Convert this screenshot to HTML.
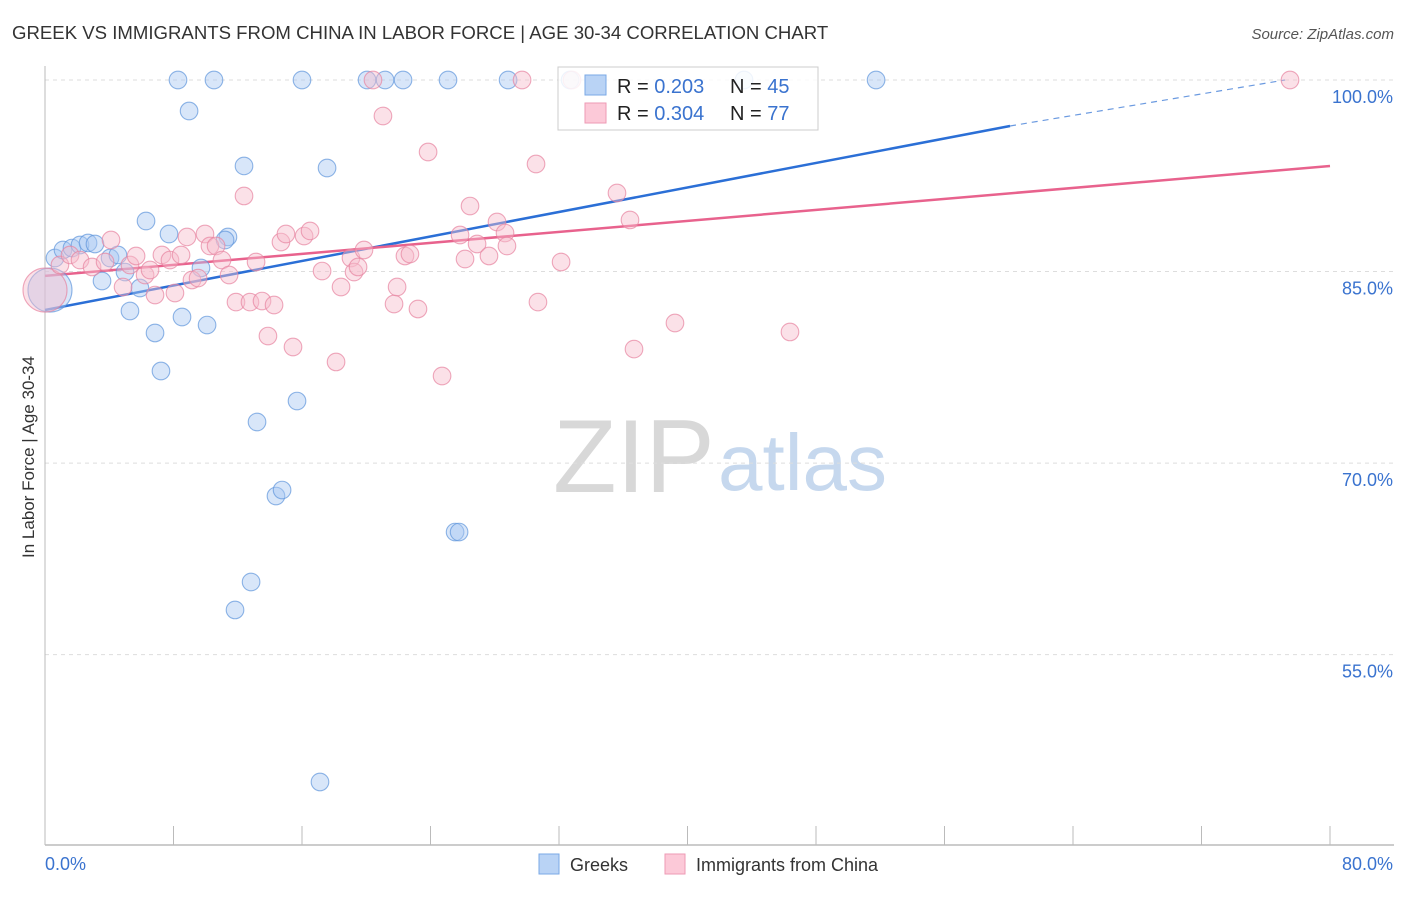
<!DOCTYPE html>
<html><head><meta charset="utf-8"><style>
body{margin:0;background:#fff;font-family:"Liberation Sans",sans-serif;}
svg text{font-family:"Liberation Sans",sans-serif;}
</style></head><body>
<svg id="chart" width="1406" height="892" xmlns="http://www.w3.org/2000/svg">
<text x="12" y="39" font-size="18.6" fill="#333">GREEK VS IMMIGRANTS FROM CHINA IN LABOR FORCE | AGE 30-34 CORRELATION CHART</text>
<text x="1394" y="39" font-size="15" fill="#555" text-anchor="end" font-style="italic">Source: ZipAtlas.com</text>
<g>
<text x="553" y="492" font-size="104" fill="#d8d8d8" font-family="Liberation Serif,serif">ZIP</text>
<text x="718" y="490" font-size="80" fill="#c6d8ee">atlas</text>
</g>
<g id="grid"></g>
<g id="axes"></g>
<g id="trend"></g>
<g id="pts"></g>
<text transform="translate(34,457) rotate(-90)" font-size="17" fill="#333" text-anchor="middle">In Labor Force | Age 30-34</text>
<g>
<rect x="558" y="67" width="260" height="63" fill="#fff" fill-opacity="0.85" stroke="#ccc"/>
<rect x="585" y="75" width="21" height="20" fill="#b9d3f5" stroke="#7aa8e6"/>
<rect x="585" y="103" width="21" height="20" fill="#fcc9d8" stroke="#ee9ab4"/>
<text x="617" y="93" font-size="20" fill="#222">R = <tspan fill="#3a73cf">0.203</tspan></text>
<text x="730" y="93" font-size="20" fill="#222">N = <tspan fill="#3a73cf">45</tspan></text>
<text x="617" y="120" font-size="20" fill="#222">R = <tspan fill="#3a73cf">0.304</tspan></text>
<text x="730" y="120" font-size="20" fill="#222">N = <tspan fill="#3a73cf">77</tspan></text>
</g>
<g>
<rect x="539" y="854" width="20" height="20" fill="#b9d3f5" stroke="#7aa8e6"/>
<text x="570" y="871" font-size="18" fill="#333">Greeks</text>
</g>
<g>
<rect x="665" y="854" width="20" height="20" fill="#fcc9d8" stroke="#ee9ab4"/>
<text x="696" y="871" font-size="18" fill="#333">Immigrants from China</text>
</g>
</svg>
<script>
const yTicks=[100,85,70,55];
const xTickLabels=["0.0%","80.0%"];
const greekX=[8.28,10.52,16.0,20.05,21.17,22.29,25.09,28.83,32.69,43.52,51.74,8.97,12.39,17.56,6.29,7.72,11.39,11.21,0.62,1.12,1.68,2.18,2.68,3.11,4.05,4.54,4.98,3.55,5.91,9.71,5.29,6.85,8.53,10.09,7.22,13.2,15.69,14.38,14.76,25.53,25.78,12.83,11.83,17.12,0.31];
const greekY=[100,100,100,100,100,100,100,100,100,100,100,97.57,93.27,93.11,88.96,87.94,87.71,87.47,86.06,86.69,86.84,87.08,87.24,87.16,86.06,86.3,84.96,84.26,83.71,85.28,81.91,80.19,81.44,80.81,77.21,73.22,74.86,67.42,67.89,64.6,64.6,60.69,58.5,45.03,83.55];
const chinaX=[0,0.93,1.56,2.18,2.93,3.74,4.11,4.86,5.29,5.67,6.23,6.54,6.85,7.28,7.78,8.09,8.47,8.84,9.15,9.53,9.96,10.27,10.65,11.02,11.46,11.89,12.39,12.76,13.14,13.51,13.88,14.26,14.69,15.0,15.44,16.13,16.5,17.25,18.12,18.43,19.05,19.24,19.49,19.86,20.42,21.04,21.73,21.92,22.41,22.72,23.22,23.85,24.72,25.84,26.15,26.46,26.9,27.64,28.14,28.64,28.76,29.7,30.57,30.69,32.13,32.81,35.61,36.42,36.67,39.22,46.38,77.51];
const chinaY=[83.55,85.51,86.3,85.9,85.36,85.75,87.47,83.79,85.51,86.22,84.73,85.12,83.16,86.3,85.9,83.32,86.3,87.71,84.34,84.49,87.94,87.0,87.0,85.9,84.73,82.61,90.92,82.61,85.75,82.69,79.95,82.38,87.31,87.94,79.09,87.78,88.18,85.04,77.92,83.79,86.06,84.96,85.36,86.69,100,97.18,82.46,83.79,86.22,86.37,82.07,94.36,76.82,87.86,85.98,90.13,87.16,86.22,88.88,88.02,87.0,100,93.42,82.61,85.75,100,91.15,89.04,78.93,80.97,80.27,100];
const greekTrend=[81.99,96.4,100];
const greekTrendX=[0,60.08,77.2];
const chinaTrend=[84.66,93.27];
const chinaTrendX=[0,80];

const NS="http://www.w3.org/2000/svg";
const X0=45,X1=1330,Y100=80,PX=12.77;
const sx=v=>X0+(v/80)*(X1-X0);
const sy=v=>Y100+(100-v)*PX;
function mk(tag,attrs,parent){const e=document.createElementNS(NS,tag);for(const k in attrs)e.setAttribute(k,attrs[k]);parent.appendChild(e);return e;}
const grid=document.getElementById('grid'),axes=document.getElementById('axes');
yTicks.forEach(t=>{
  const l=mk('line',{x1:X0,x2:1394,y1:sy(t),y2:sy(t),stroke:'#ddd','stroke-dasharray':'4,4'},grid);
  
  
  const tx=mk('text',{x:1393,y:sy(t)+23,'font-size':18,fill:'#3a73cf','text-anchor':'end'},axes);
  tx.textContent=t.toFixed(1)+'%';
  
  
});
const ya=mk('line',{x1:X0,x2:X0,y1:66,y2:845,stroke:'#bbb'},axes);


const xa=mk('line',{x1:X0,x2:1394,y1:845,y2:845,stroke:'#bbb','stroke-width':1.5},axes);


for(let i=0;i<=10;i++){
  const t=mk('line',{x1:sx(i*8),x2:sx(i*8),y1:826,y2:845,stroke:'#bbb'},axes);
  
  
}
[[0,'start'],[80,'end']].forEach((p,i)=>{
  const t=mk('text',{x:i?1393:45,y:870,'font-size':18,fill:'#3a73cf','text-anchor':p[1]},axes);
  t.textContent=xTickLabels[i];
  
  
});
const pts=document.getElementById('pts');
function dots(xs,ys,fill,stroke,name,bigIdx){
  xs.forEach((x,i)=>{
    const c=mk('circle',{cx:sx(x),cy:sy(ys[i]),r:i===bigIdx?22:8.8,fill:fill,'fill-opacity':0.45,stroke:stroke,'stroke-width':1.1,'stroke-opacity':0.7},pts);
    
    
  });
}
dots(greekX,greekY,'#a9c8f2','#5f95dc','greek-point',44);
dots(chinaX,chinaY,'#f7bccd','#e7839f','china-point',0);
const tr=document.getElementById('trend');
const g1=mk('line',{x1:sx(greekTrendX[0]),y1:sy(greekTrend[0]),x2:sx(greekTrendX[1]),y2:sy(greekTrend[1]),stroke:'#2b6fd6','stroke-width':2.5},tr);


const g2=mk('line',{x1:sx(greekTrendX[1]),y1:sy(greekTrend[1]),x2:sx(greekTrendX[2]),y2:sy(greekTrend[2]),stroke:'#6b9ae0','stroke-width':1.2,'stroke-dasharray':'6,5'},tr);


const c1=mk('line',{x1:sx(chinaTrendX[0]),y1:sy(chinaTrend[0]),x2:sx(chinaTrendX[1]),y2:sy(chinaTrend[1]),stroke:'#e8628d','stroke-width':2.5},tr);


</script>
</body></html>
